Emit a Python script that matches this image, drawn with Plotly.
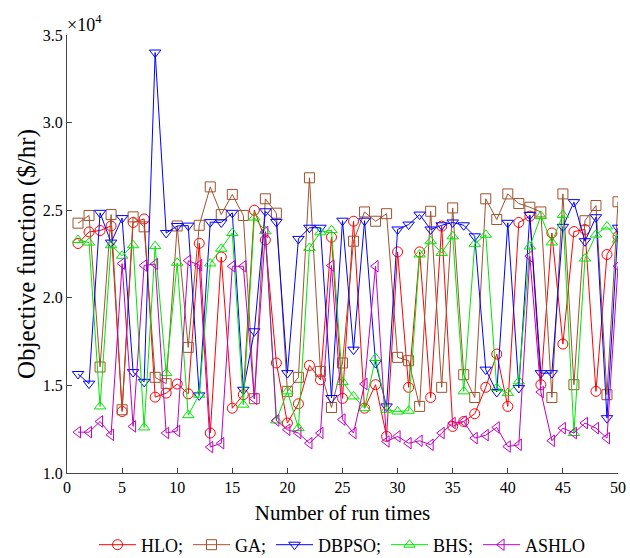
import plotly.graph_objects as go

runs = list(range(1, 51))

hlo = [2.31, 2.376, 2.384, 2.41, 1.351, 2.43, 2.45, 1.433, 1.456, 1.508,
       1.452, 2.311, 1.228, 2.233, 1.37, 1.447, 2.50, 2.33, 1.628, 1.285,
       1.395, 1.614, 1.532, 2.346, 1.426, 2.437, 1.37, 1.504, 1.209, 2.262,
       1.489, 2.262, 1.431, 2.409, 1.266, 1.294, 1.338, 1.489, 1.679, 1.38,
       2.43, 2.466, 1.504, 2.37, 1.736, 2.378, 2.39, 1.466, 2.247, 2.351]

ga = [2.426, 2.47, 1.605, 2.475, 1.361, 2.462, 2.405, 1.546, 1.51, 2.41,
      1.717, 2.414, 2.633, 2.475, 2.59, 2.47, 1.424, 2.565, 2.483, 1.466,
      1.546, 2.685, 1.58, 1.374, 1.628, 2.323, 2.49, 2.437, 2.48, 1.66,
      1.641, 1.38, 2.494, 1.489, 2.513, 1.561, 1.431, 2.565, 2.447, 2.593,
      2.538, 2.517, 2.49, 1.431, 2.593, 1.504, 2.44, 2.527, 1.447, 2.548]

dbpso = [1.565, 1.51, 2.485, 2.315, 2.455, 1.576, 1.52, 3.40, 2.37, 2.41,
         2.412, 1.443, 2.432, 2.43, 2.485, 1.475, 1.809, 2.494, 2.433, 1.57,
         2.336, 2.40, 2.40, 1.428, 2.44, 1.704, 2.44, 1.628, 1.38, 2.39,
         2.418, 2.475, 2.39, 2.414, 2.43, 2.414, 2.351, 1.59, 1.462, 2.428,
         1.485, 2.473, 1.57, 1.57, 2.405, 2.546, 2.323, 2.46, 1.313, 2.40]

bhs = [2.33, 2.315, 1.38, 2.30, 2.24, 2.30, 1.26, 2.295, 1.57, 2.20,
       1.33, 1.447, 2.196, 2.28, 2.37, 1.39, 2.458, 2.38, 1.30, 1.466,
       1.256, 2.285, 2.374, 2.386, 1.52, 1.437, 1.37, 1.656, 1.361, 1.351,
       1.355, 2.247, 2.323, 2.256, 2.351, 1.466, 2.308, 2.36, 1.485, 1.456,
       1.523, 2.293, 2.467, 2.316, 2.473, 1.228, 2.224, 2.361, 2.407, 2.332]

ashlo = [1.233, 1.233, 1.294, 1.218, 2.195, 1.266, 2.185, 2.193, 1.228, 1.24,
         2.212, 2.186, 1.148, 1.17, 2.18, 2.18, 1.424, 2.376, 1.30, 1.247,
         1.228, 1.17, 1.228, 2.184, 1.305, 1.228, 1.508, 2.18, 1.18, 1.209,
         1.17, 1.184, 1.161, 1.228, 1.285, 1.294, 1.199, 1.216, 1.26, 1.151,
         1.161, 2.237, 1.462, 1.184, 1.256, 1.228, 1.285, 1.256, 1.199, 2.18]

series = [
    ("HLO;", hlo, "#FF0000", "circle-open"),
    ("GA;", ga, "#A0522D", "square-open"),
    ("DBPSO;", dbpso, "#0000FF", "triangle-down-open"),
    ("BHS;", bhs, "#00E600", "triangle-up-open"),
    ("ASHLO", ashlo, "#C000C0", "triangle-left-open"),
]

FONT = "Liberation Serif, Times New Roman, serif"

fig = go.Figure()
for name, vals, color, sym in series:
    fig.add_trace(go.Scatter(
        x=runs, y=vals, name=name, mode="lines+markers",
        line=dict(color=color, width=1),
        marker=dict(symbol=sym, size=10, color=color, line=dict(width=1, color=color)),
    ))

fig.update_layout(
    width=630, height=558,
    margin=dict(l=67, r=12, t=35, b=85, autoexpand=False),
    plot_bgcolor="white", paper_bgcolor="white",
    font=dict(family=FONT, size=16, color="black"),
    showlegend=True,
    legend=dict(orientation="h", x=0.5, xanchor="center", xref="paper",
                y=1 - 545 / 558, yanchor="middle", yref="container",
                font=dict(family=FONT, size=18, color="black"),
                itemwidth=37, tracegroupgap=0, bgcolor="rgba(0,0,0,0)"),
    xaxis=dict(range=[0, 50], tickmode="linear", tick0=0, dtick=5, automargin=False,
               showline=True, linecolor="#444", linewidth=1, ticks="inside",
               ticklen=5, tickcolor="#444", showgrid=False, zeroline=False,
               title=dict(text="Number of run times", font=dict(family=FONT, size=21), standoff=10),
               tickfont=dict(family=FONT, size=16)),
    yaxis=dict(range=[1.0, 3.5], tickmode="linear", tick0=1.0, dtick=0.5, tickformat=".1f",
               automargin=False,
               showline=True, linecolor="#444", linewidth=1, ticks="inside",
               ticklen=5, tickcolor="#444", showgrid=False, zeroline=False,
               title=dict(text="Objective function ($/hr)", font=dict(family=FONT, size=25), standoff=0),
               tickfont=dict(family=FONT, size=16)),
    annotations=[dict(text="×10<sup>4</sup>", xref="paper", yref="paper", x=0, y=1.0,
                      xanchor="left", yanchor="bottom", showarrow=False,
                      font=dict(family=FONT, size=18), xshift=-2, yshift=-2)],
)

fig.write_html("out.html")
